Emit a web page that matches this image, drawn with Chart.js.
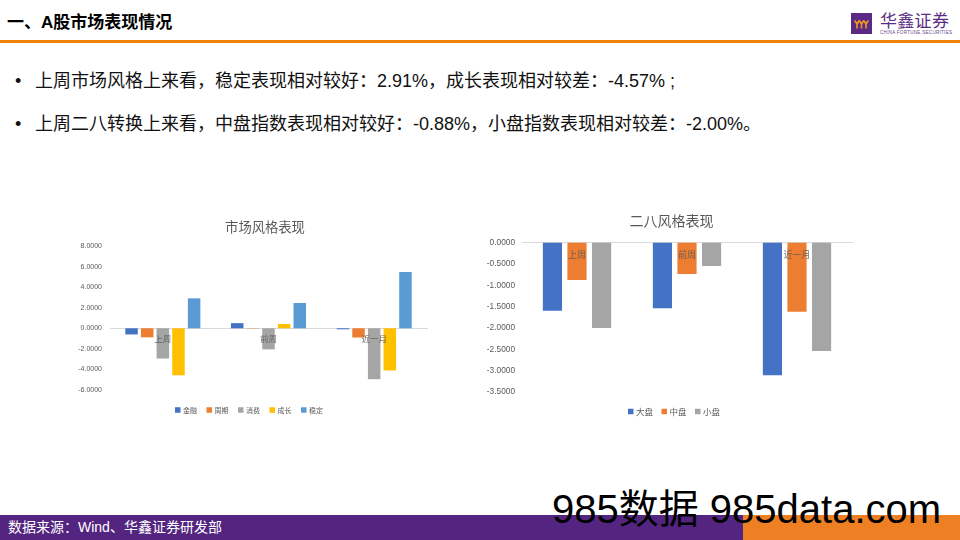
<!DOCTYPE html>
<html>
<head>
<meta charset="utf-8">
<script src="https://cdn.jsdelivr.net/npm/chart.js@4/dist/chart.umd.min.js"></script>
<style>
  html, body { margin:0; padding:0; background:#fff; }
  body { width:960px; height:540px; position:relative; overflow:hidden; font-family:"Liberation Sans","Noto Sans CJK SC",sans-serif; }
  .abs { position:absolute; white-space:nowrap; }
  #title { left:7px; top:12px; font-size:17px; font-weight:bold; line-height:22px; color:#000; }
  #rule { left:0; top:39.5px; width:960px; height:3px; background:#EF8200; }
  #logoBox { left:851px; top:13px; width:21px; height:21px; background:#5A2A84; }
  #logoName { left:880px; top:9px; font-size:17px; line-height:22px; color:#5B2C83; font-family:"Noto Sans CJK SC",sans-serif; letter-spacing:0.3px; }
  #logoEn { left:880px; top:30px; font-size:4.6px; line-height:6px; color:#6a4a8e; letter-spacing:0.25px; }
  .bullet { left:15px; font-size:18px; line-height:24px; color:#111; }
  .btext { left:35px; font-size:18px; line-height:24px; color:#111; }
  #footL { left:0; top:515px; width:743px; height:25px; background:#532480; }
  #footR { left:743px; top:515px; width:217px; height:25px; background:#EE7F22; }
  #footText { left:8px; top:515px; font-size:14px; line-height:25px; color:#fff; }
  #wm { left:552px; top:489px; font-size:40px; line-height:40px; color:#000; }
  canvas { position:absolute; }
</style>
</head>
<body>
<div class="abs" id="title">一、A股市场表现情况</div>
<div class="abs" id="rule"></div>
<div class="abs" id="logoBox">
  <svg width="21" height="21" viewBox="0 0 21 21">
    <g stroke="#F39A1E" stroke-width="1.6" fill="none" stroke-linecap="round">
      <path d="M4 8 L6 11 L8 8 M6 11 L6 15"/>
      <path d="M8.5 8 L10.5 11 L12.5 8 M10.5 11 L10.5 15"/>
      <path d="M13 8 L15 11 L17 8 M15 11 L15 15"/>
    </g>
  </svg>
</div>
<div class="abs" id="logoName">华鑫证券</div>
<div class="abs" id="logoEn">CHINA FORTUNE SECURITIES</div>

<div class="abs bullet" style="top:69px;">•</div>
<div class="abs btext" style="top:69px;">上周市场风格上来看，稳定表现相对较好：2.91%，成长表现相对较差：-4.57% ;</div>
<div class="abs bullet" style="top:112px;">•</div>
<div class="abs btext" style="top:112px;">上周二八转换上来看，中盘指数表现相对较好：-0.88%，小盘指数表现相对较差：-2.00%。</div>

<canvas id="c1" width="410" height="220" style="left:60px; top:205px;"></canvas>
<canvas id="c2" width="410" height="225" style="left:470px; top:200px;"></canvas>

<div class="abs" id="footL"></div>
<div class="abs" id="footR"></div>
<div class="abs" id="footText">数据来源：Wind、华鑫证券研发部</div>
<div class="abs" id="wm">985数据 985data.com</div>

<script>
// ---------- data ----------
const styleTitle = '市场风格表现';
const styleCategories = ['上周', '前周', '近一月'];
const styleSeries = ['金融', '周期', '消费', '成长', '稳定'];
const styleFinance = [-0.60, 0.50, -0.10];
const styleCyclical = [-0.88, -0.03, -0.90];
const styleConsumer = [-2.94, -2.05, -4.95];
const styleGrowth = [-4.57, 0.42, -4.10];
const styleStable = [2.91, 2.46, 5.47];
const styleTicks = [8, 6, 4, 2, 0, -2, -4, -6];

const sizeTitle = '二八风格表现';
const sizeCategories = ['上周', '前周', '近一月'];
const sizeSeries = ['大盘', '中盘', '小盘'];
const sizeLarge = [-1.60, -1.54, -3.11];
const sizeMid = [-0.88, -0.74, -1.62];
const sizeSmall = [-2.00, -0.55, -2.54];
const sizeTicks = [0, -0.5, -1, -1.5, -2, -2.5, -3, -3.5];

const palette = ['#4472C4', '#ED7D31', '#A5A5A5', '#FFC000', '#5B9BD5'];
const FONT = '"Liberation Sans","Noto Sans CJK SC",sans-serif';
Chart.defaults.font.family = FONT;

// title + legend drawn with chart data
const decorPlugin = {
  id: 'decor',
  afterDraw(chart, args, o) {
    const ctx = chart.ctx;
    ctx.save();
    ctx.fillStyle = '#595959';
    ctx.font = o.titleSize + 'px "Noto Sans CJK SC",sans-serif';
    ctx.textAlign = 'center';
    ctx.textBaseline = 'middle';
    ctx.fillText(o.title, o.titleX, o.titleY);
    ctx.font = o.legendSize + 'px "Noto Sans CJK SC",sans-serif';
    ctx.textAlign = 'left';
    let x = o.legendX;
    chart.data.datasets.forEach(ds => {
      ctx.fillStyle = ds.backgroundColor;
      ctx.fillRect(x, o.legendY - o.box / 2, o.box, o.box);
      x += o.box + 2.5;
      ctx.fillStyle = '#595959';
      ctx.fillText(ds.label, x, o.legendY);
      x += ctx.measureText(ds.label).width + o.gap;
    });
    ctx.restore();
  }
};

function makeChart(id, cats, names, values, ticks, cfg) {
  return new Chart(document.getElementById(id), {
    type: 'bar',
    data: {
      labels: cats,
      datasets: names.map((n, i) => ({
        label: n, data: values[i], backgroundColor: palette[i],
        barPercentage: cfg.barPct, categoryPercentage: cfg.catPct
      }))
    },
    options: {
      responsive: false, animation: false, devicePixelRatio: 1,
      layout: { padding: cfg.padding },
      plugins: { legend: { display: false }, title: { display: false }, tooltip: { enabled: false }, decor: cfg.decor },
      scales: {
        x: {
          position: { y: 0 },
          grid: { display: false, drawTicks: false },
          border: { display: true, color: '#D9D9D9', width: 1 },
          ticks: { z: 1, color: 'rgba(89,89,89,0.85)', font: { size: cfg.catFont, family: '"Noto Sans CJK SC",sans-serif' }, padding: cfg.catPad, maxRotation: 0 }
        },
        y: {
          min: Math.min(...ticks), max: Math.max(...ticks),
          afterBuildTicks: s => { s.ticks = ticks.map(v => ({ value: v })); },
          grid: { display: false, drawTicks: false },
          border: { display: false },
          ticks: { color: '#595959', font: { size: cfg.tickFont }, padding: cfg.tickPad, callback: v => Number(v).toFixed(4) },
          afterFit: s => { s.width = cfg.yWidth; }
        }
      }
    },
    plugins: [decorPlugin]
  });
}

makeChart('c1', styleCategories, styleSeries,
  [styleFinance, styleCyclical, styleConsumer, styleGrowth, styleStable], styleTicks, {
    barPct: 0.8, catPct: 0.74,
    padding: { left: 0, right: 43, top: 41, bottom: 35 },
    yWidth: 50, tickPad: 8, tickFont: 7, catFont: 8.5, catPad: 5,
    decor: { title: styleTitle, titleX: 205, titleY: 22, titleSize: 13.3,
             legendX: 115, legendY: 205, legendSize: 7, box: 5.5, gap: 9.5 }
  });

makeChart('c2', sizeCategories, sizeSeries,
  [sizeLarge, sizeMid, sizeSmall], sizeTicks, {
    barPct: 0.78, catPct: 0.67,
    padding: { left: 0, right: 28, top: 42.5, bottom: 33 },
    yWidth: 52, tickPad: 7, tickFont: 8.3, catFont: 9, catPad: 7,
    decor: { title: sizeTitle, titleX: 201.5, titleY: 20.7, titleSize: 14,
             legendX: 158, legendY: 211.5, legendSize: 8.5, box: 5.5, gap: 8.5 }
  });
</script>
</body>
</html>
